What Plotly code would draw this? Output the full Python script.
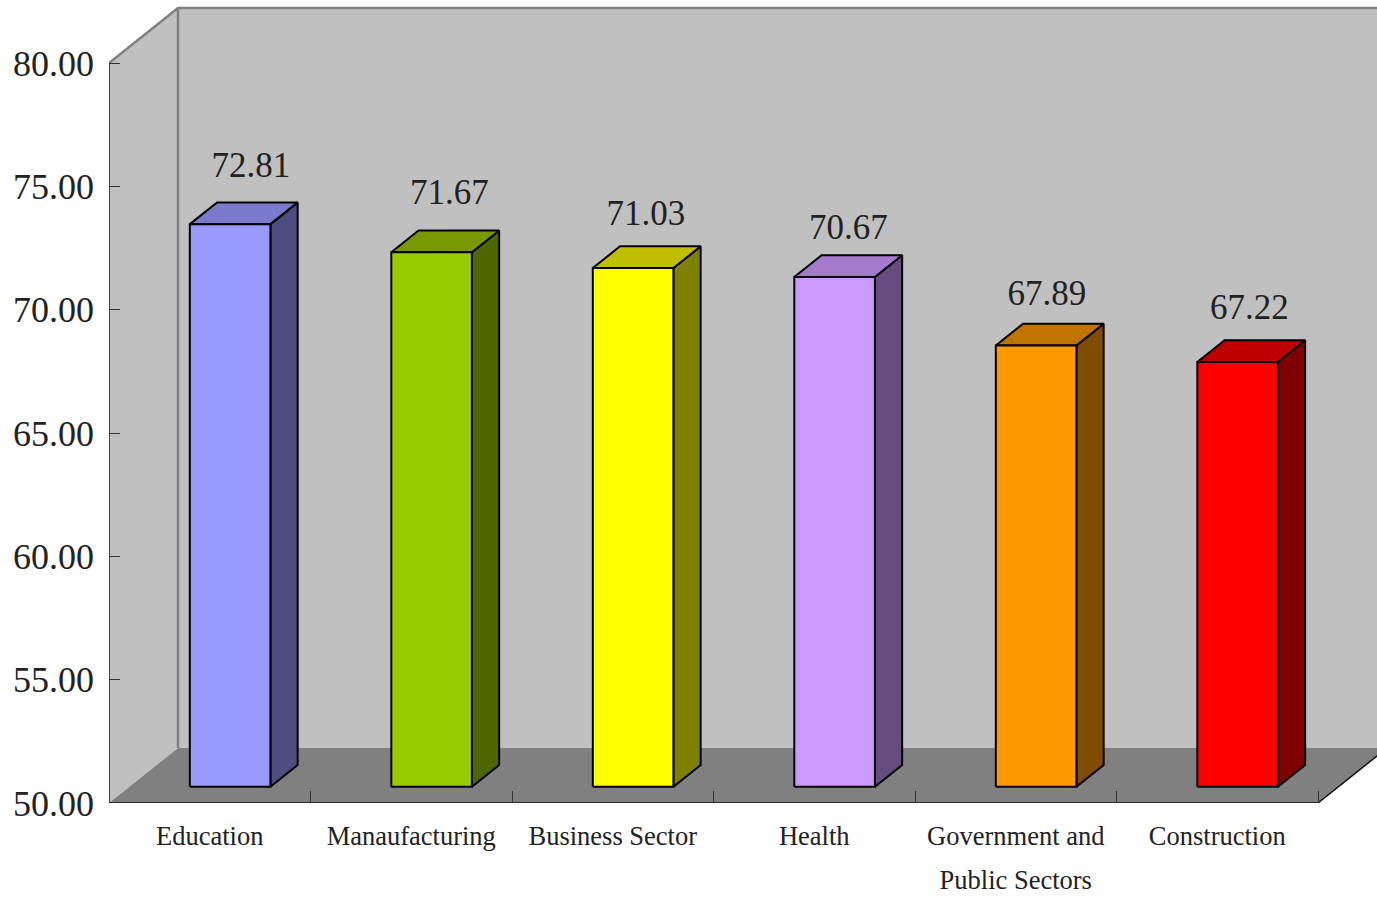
import plotly.graph_objects as go

categories = ["Education", "Manaufacturing", "Business Sector", "Health",
              "Government and<br>Public Sectors", "Construction"]
values = [72.81, 71.67, 71.03, 70.67, 67.89, 67.22]
front_colors = ["#9999FF", "#99CC00", "#FFFF00", "#CC99FF", "#FF9900", "#FF0000"]
top_colors = ["#7A7ACC", "#7A9900", "#BFBF00", "#A37ACC", "#BF7300", "#BF0000"]
side_colors = ["#4D4D80", "#4D6600", "#808000", "#664D80", "#804D00", "#800000"]
y_ticks = [50, 55, 60, 65, 70, 75, 80]
# pixel nudges of the value labels (hand-placed in the original)
label_dx = [41, 38, 33, 34, 31, 32]
label_dy = [34, 35, 30, 25, 28, 30]

W, H = 1377, 897
PX_L, PX_R, PX_B, PX_T = 109, 1318, 803, 63
n = len(categories)
Y0, Y1 = y_ticks[0], y_ticks[-1]
PX_PER_X = (PX_R - PX_L) / n
PX_PER_Y = (PX_B - PX_T) / (Y1 - Y0)
DEPTH_X = 69 / PX_PER_X
DEPTH_Y = 55 / PX_PER_Y
BAR_W = 1 / 2.5
D_FRONT, D_BACK = 0.295, 0.69
X_MAX = (W - PX_L) / PX_PER_X
Y_MAX = Y0 + PX_B / PX_PER_Y

fig = go.Figure()


def poly(xs, ys, fill=None, line=None, width=1.0):
    closed = fill is not None
    fig.add_trace(go.Scatter(
        x=xs + xs[:1] if closed else xs,
        y=ys + ys[:1] if closed else ys,
        mode="lines",
        fill="toself" if closed else "none",
        fillcolor=fill,
        line=dict(color=line or "rgba(0,0,0,0)", width=width if line else 0),
        hoverinfo="skip", showlegend=False))


# walls and floor
poly([DEPTH_X, X_MAX + 1, X_MAX + 1, DEPTH_X], [Y0 + DEPTH_Y, Y0 + DEPTH_Y, Y1 + DEPTH_Y, Y1 + DEPTH_Y], "#C0C0C0")
poly([0, DEPTH_X, DEPTH_X, 0], [Y0, Y0 + DEPTH_Y, Y1 + DEPTH_Y, Y1], "#C0C0C0")
poly([0, n, n + DEPTH_X, DEPTH_X], [Y0, Y0, Y0 + DEPTH_Y, Y0 + DEPTH_Y], "#808080")
poly([0, DEPTH_X, DEPTH_X], [Y1, Y1 + DEPTH_Y, Y0 + DEPTH_Y], None, "#808080", 2.5)
poly([DEPTH_X, X_MAX + 1], [Y1 + DEPTH_Y, Y1 + DEPTH_Y], None, "#808080", 2.5)

# axis lines
poly([0, 0], [Y0, Y1], None, "#222222", 1.5)
poly([0, n, n + DEPTH_X], [Y0, Y0, Y0 + DEPTH_Y], None, "#111111", 1.5)

# bars
for i, v in enumerate(values):
    xl = i + 0.5 - BAR_W / 2 + D_FRONT * DEPTH_X
    xr = xl + BAR_W
    dx = (D_BACK - D_FRONT) * DEPTH_X
    dy = (D_BACK - D_FRONT) * DEPTH_Y
    yb = Y0 + D_FRONT * DEPTH_Y
    yt = v + D_FRONT * DEPTH_Y
    poly([xr, xr + dx, xr + dx, xr], [yb, yb + dy, yt + dy, yt], side_colors[i], "#000000", 2)
    poly([xl, xr, xr + dx, xl + dx], [yt, yt, yt + dy, yt + dy], top_colors[i], "#000000", 2)
    poly([xl, xr, xr, xl], [yb, yb, yt, yt], front_colors[i], "#000000", 2)

# value labels
fig.add_trace(go.Scatter(
    x=[i + 0.5 + label_dx[i] / PX_PER_X for i in range(n)],
    y=[v + (D_BACK * DEPTH_Y) + label_dy[i] / PX_PER_Y for i, v in enumerate(values)],
    text=[f"{v:.2f}" for v in values],
    mode="text", textposition="middle center",
    textfont=dict(family="Liberation Serif", size=35, color="#222222"),
    hoverinfo="skip", showlegend=False))

tick_text = ["<br>".join(f'<span style="font-size:26.5px">{p}</span>' for p in c.split("<br>")) for c in categories]

fig.update_layout(
    width=W, height=H,
    margin=dict(l=0, r=0, t=0, b=0),
    paper_bgcolor="white", plot_bgcolor="white",
    font=dict(family="Liberation Serif", color="#222222"),
    showlegend=False,
    xaxis=dict(
        domain=[PX_L / W, 1], range=[0, X_MAX], automargin=False,
        tickmode="array", tickvals=[i + 0.5 for i in range(n)], ticktext=tick_text,
        ticks="", showgrid=False, zeroline=False, showline=False,
        ticklabelstandoff=7,
        tickfont=dict(size=34, family="Liberation Serif", color="#222222"),
        tickangle=0,
        minor=dict(tickmode="array", tickvals=list(range(1, n + 1)), ticks="inside",
                   ticklen=12, tickwidth=1, tickcolor="#333333", showgrid=False),
    ),
    yaxis=dict(
        domain=[(H - PX_B) / H, 1], range=[Y0, Y_MAX], automargin=False,
        tickmode="array", tickvals=y_ticks, tickformat=".2f",
        ticks="inside", ticklen=11, tickwidth=1, tickcolor="#333333",
        ticklabelstandoff=14,
        showgrid=False, zeroline=False, showline=False,
        tickfont=dict(size=36, family="Liberation Serif", color="#222222"),
    ),
)

fig.write_html("out.html", config={"displayModeBar": False},
               post_script="document.body.style.margin='0';document.body.style.overflow='hidden';")
